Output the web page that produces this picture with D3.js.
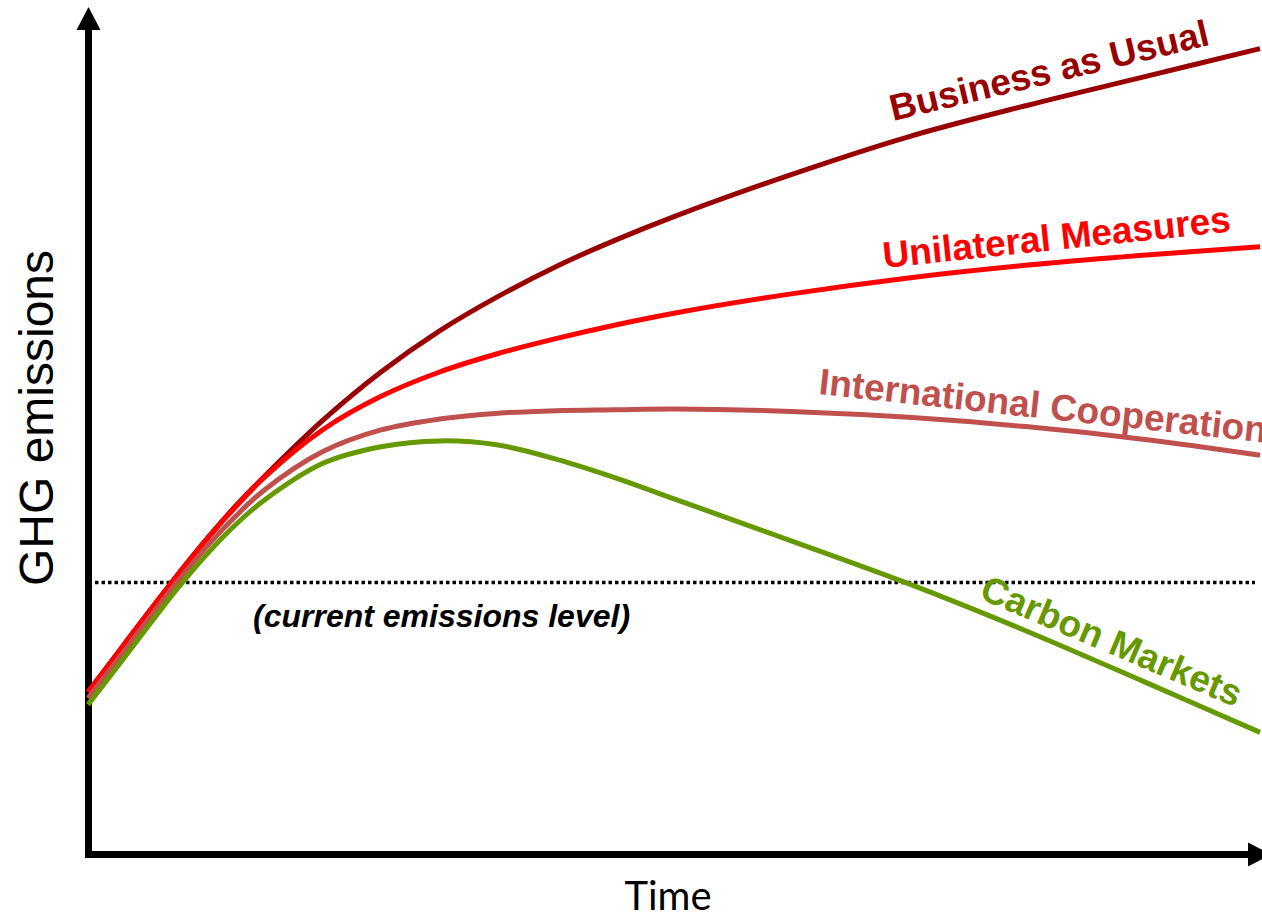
<!DOCTYPE html>
<html>
<head>
<meta charset="utf-8">
<script src="https://cdn.jsdelivr.net/npm/d3@7"></script>
<style>
  html, body { margin: 0; padding: 0; background: #fff; overflow: hidden; }
  svg { display: block; }
</style>
</head>
<body>
<svg id="chart" width="1262" height="919"></svg>
<script>
// Scenario emission paths (relative units) over an abstract time axis
const timeSteps          = [0, 2.5, 5, 7.5, 10, 12.5, 15, 20, 25, 30, 35, 40, 45, 50, 60, 70, 80, 90, 100];
const businessAsUsual    = [19.4, 24.0, 28.6, 33.1, 37.4, 41.4, 45.0, 51.7, 57.5, 62.4, 66.5, 70.1, 73.2, 76.0, 81.0, 85.5, 89.2, 92.6, 96.0];
const unilateralMeasures = [19.4, 24.0, 28.6, 33.1, 37.4, 41.3, 44.9, 50.6, 54.6, 57.5, 59.7, 61.5, 63.1, 64.5, 66.8, 68.7, 70.2, 71.4, 72.4];
const internationalCoop  = [18.7, 23.2, 27.8, 32.3, 36.5, 40.2, 43.4, 48.0, 50.6, 51.9, 52.6, 52.9, 53.0, 53.1, 52.8, 52.1, 51.0, 49.5, 47.6];
const carbonMarkets      = [17.9, 22.4, 27.0, 31.5, 35.6, 39.2, 42.2, 46.6, 48.6, 49.3, 48.8, 47.1, 44.9, 42.4, 37.4, 32.3, 26.7, 20.7, 14.6];
const currentLevel = 32.5;

const seriesNames = ["Business as Usual", "Unilateral Measures", "International Cooperation", "Carbon Markets"];
const seriesValues = [businessAsUsual, unilateralMeasures, internationalCoop, carbonMarkets];

const xLabel = "Time";
const yLabel = "GHG emissions";
const levelLabel = "(current emissions level)";

// styling
const colors = ["#990000", "#FF0000", "#C0504D", "#669900"];
const labelPlacement = [
  { x: 893, y: 121, angle: -13.5 },
  { x: 884, y: 268, angle: -6 },
  { x: 818, y: 394, angle: 6.2 },
  { x: 978, y: 598, angle: 23 }
];

const svg = d3.select("#chart");

const x = d3.scaleLinear().domain([0, 100]).range([88, 1260]);
const y = d3.scaleLinear().domain([0, 100]).range([855, 15]);

const axisX0 = 88.5, axisY0 = 854.5;

// axes with arrowheads
const axes = svg.append("g");
axes.append("line")
  .attr("x1", axisX0).attr("y1", axisY0 + 3.5)
  .attr("x2", axisX0).attr("y2", 28)
  .attr("stroke", "#000").attr("stroke-width", 7);
axes.append("path")
  .attr("d", d3.line()([[axisX0 - 12, 30], [axisX0, 7], [axisX0 + 12, 30]]) + "Z")
  .attr("fill", "#000");
axes.append("line")
  .attr("x1", axisX0 - 3.5).attr("y1", axisY0)
  .attr("x2", 1250).attr("y2", axisY0)
  .attr("stroke", "#000").attr("stroke-width", 7);
axes.append("path")
  .attr("d", d3.line()([[1248, axisY0 - 12], [1271, axisY0], [1248, axisY0 + 12]]) + "Z")
  .attr("fill", "#000");

// current emissions reference line
const levelY = Math.round(y(currentLevel)) + 0.5;
svg.append("line")
  .attr("x1", 95).attr("x2", 1255)
  .attr("y1", levelY).attr("y2", levelY)
  .attr("stroke", "#000").attr("stroke-width", 3.5)
  .attr("stroke-dasharray", "3.5,3");

svg.append("text")
  .attr("x", 253).attr("y", 627)
  .attr("font-family", "'Liberation Sans', Arial, sans-serif")
  .attr("font-weight", "bold").attr("font-style", "italic")
  .attr("font-size", 32)
  .attr("fill", "#000")
  .text(levelLabel);

// scenario curves
const line = d3.line()
  .x((d, i) => x(timeSteps[i]))
  .y(d => y(d))
  .curve(d3.curveCatmullRom.alpha(0.5));

svg.append("g").selectAll("path")
  .data(seriesValues)
  .join("path")
  .attr("d", line)
  .attr("fill", "none")
  .attr("stroke", (d, i) => colors[i])
  .attr("stroke-width", 5)
  .attr("stroke-linecap", "butt");

// scenario labels
svg.append("g").selectAll("text")
  .data(seriesNames)
  .join("text")
  .attr("transform", (d, i) => `translate(${labelPlacement[i].x},${labelPlacement[i].y}) rotate(${labelPlacement[i].angle})`)
  .attr("font-family", "'Liberation Sans', Arial, sans-serif")
  .attr("font-weight", "bold")
  .attr("font-size", 37)
  .attr("fill", (d, i) => colors[i])
  .text(d => d);

// axis titles
svg.append("text")
  .attr("x", 668).attr("y", 910)
  .attr("text-anchor", "middle")
  .attr("font-family", "Lato, 'Open Sans', sans-serif")
  .attr("font-size", 40)
  .attr("fill", "#000")
  .text(xLabel);

svg.append("text")
  .attr("transform", "translate(53,418) rotate(-90)")
  .attr("text-anchor", "middle")
  .attr("font-family", "'Liberation Sans', Arial, sans-serif")
  .attr("font-size", 48)
  .attr("fill", "#000")
  .text(yLabel);
</script>
</body>
</html>
